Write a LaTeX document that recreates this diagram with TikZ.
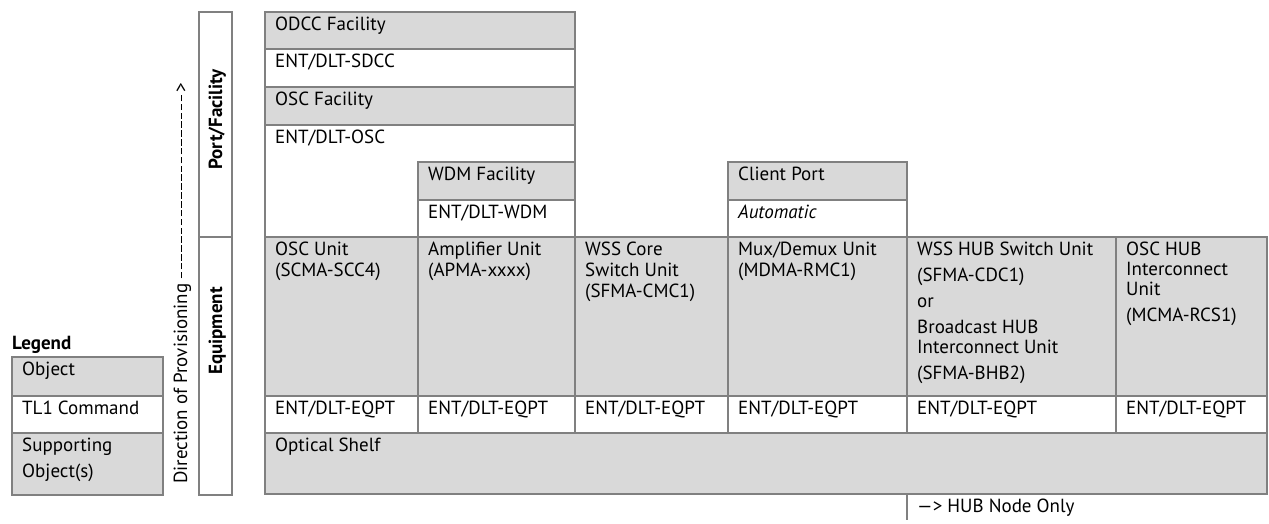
\documentclass[tikz,border=0pt]{standalone}
\usepackage{fontspec}
\setmainfont{PT Sans}
\definecolor{linegray}{RGB}{128,128,128}
\definecolor{cellgray}{RGB}{217,217,217}
\newcommand\cellfont{\fontsize{19}{20}\selectfont}
\newcommand\st{\rule{0pt}{14pt}}
\newcommand\dashrun[1]{\hbox to #1{\xleaders\hbox{\rule[5.2pt]{6.5pt}{0.9pt}\hskip2.2pt}\hfill}}
\begin{document}
\begin{tikzpicture}[x=1pt,y=-1pt,
  box/.style={draw=linegray, line width=1.8pt},
  gbox/.style={box, fill=cellgray},
  wbox/.style={box, fill=white},
  txt/.style={anchor=north west, inner sep=0pt, align=left, font=\cellfont},
  vlabel/.style={rotate=90, inner sep=0pt, font=\cellfont\bfseries},
]
\useasboundingbox[fill=white] (0,0) rectangle (1269,523);

% ---- top block: port / facility
\path[gbox] (265,12) rectangle (575,49);
\path[wbox] (265,49) rectangle (575,87);
\path[gbox] (265,87) rectangle (575,125);
\path[wbox] (265,125) rectangle (575,237);
\path[gbox] (418,162) rectangle (575,200);
\path[wbox] (418,200) rectangle (575,237);
\path[gbox] (728,162) rectangle (907,200);
\path[wbox] (728,200) rectangle (907,237);

\node[txt] (odcc) at (275,16.5) {\st ODCC Facility};
\node[txt] (sdcc) at (275,53.5) {\st ENT/DLT-SDCC};
\node[txt] (oscf) at (275,91.5) {\st OSC Facility};
\node[txt] (oscent) at (275,129.5) {\st ENT/DLT-OSC};
\node[txt] (wdm) at (428,166.5) {\st WDM Facility};
\node[txt] (wdment) at (428,204.5) {\st ENT/DLT-WDM};
\node[txt] (client) at (738,166.5) {\st Client Port};
\node[txt] (auto) at (738,204.5) {\st\itshape Automatic};

% ---- equipment row
\foreach \a/\b in {265/418,418/575,575/728,728/907,907/1116,1116/1267}{
  \path[gbox] (\a,237) rectangle (\b,396);
  \path[wbox] (\a,396) rectangle (\b,433);
}
\path[gbox] (265,433) rectangle (1267,494);

\node[txt] (eq1) at (275,241.5) {\st OSC Unit\\[1pt](SCMA-SCC4)};
\node[txt] (eq2) at (428,241.5) {\st Amplifier Unit\\[1pt](APMA-xxxx)};
\node[txt] (eq3) at (585,241.5) {\st WSS Core\\[1pt]Switch Unit\\[1pt](SFMA-CMC1)};
\node[txt] (eq4) at (738,241.5) {\st Mux/Demux Unit\\[1pt](MDMA-RMC1)};
\node[txt] (eq5) at (917,241.5) {\st WSS HUB Switch Unit\\[6pt](SFMA-CDC1)\\[6pt]or\\[6pt]Broadcast HUB\\Interconnect Unit\\[6pt](SFMA-BHB2)};
\node[txt] (eq6) at (1126,241.5) {\st OSC HUB\\Interconnect\\Unit\\[6pt](MCMA-RCS1)};

\node[txt] (cmd1) at (275,400.5) {\st ENT/DLT-EQPT};
\node[txt] (cmd2) at (428,400.5) {\st ENT/DLT-EQPT};
\node[txt] (cmd3) at (585,400.5) {\st ENT/DLT-EQPT};
\node[txt] (cmd4) at (738,400.5) {\st ENT/DLT-EQPT};
\node[txt] (cmd5) at (917,400.5) {\st ENT/DLT-EQPT};
\node[txt] (cmd6) at (1126,400.5) {\st ENT/DLT-EQPT};
\node[txt] (shelf) at (275,437.5) {\st Optical Shelf};

% ---- HUB node note
\coordinate (hubtop) at (907,494);
\coordinate (hubbot) at (907,520);
\draw[draw=linegray, line width=1.8pt] (hubtop) -- (hubbot);
\node[txt] (hub) at (917,498) {\st —> HUB Node Only};

% ---- side labels
\path[wbox] (199,12) rectangle (232,237);
\path[wbox] (199,237) rectangle (232,495);
\node[vlabel, anchor=base east] (portlbl) at (222,69) {Port/Facility};
\node[vlabel, anchor=base east] (eqlbl) at (222,287) {Equipment};
\node[rotate=90, inner sep=0pt, font=\cellfont, anchor=base west] (dir) at (187,484)
  {Direction of Provisioning \dashrun{186pt}>};

% ---- legend
\path[gbox] (12,357) rectangle (163,396);
\path[wbox] (12,396) rectangle (163,433);
\path[gbox] (12,433) rectangle (163,495);
\node[txt, font=\cellfont\bfseries] (legend) at (12,335) {\st Legend};
\node[txt] (lobj) at (22,361.5) {\st Object};
\node[txt] (lcmd) at (22,400.5) {\st TL1 Command};
\node[txt] (lsup) at (22,437.5) {\st Supporting\\[6pt]Object(s)};
\end{tikzpicture}
\end{document}
